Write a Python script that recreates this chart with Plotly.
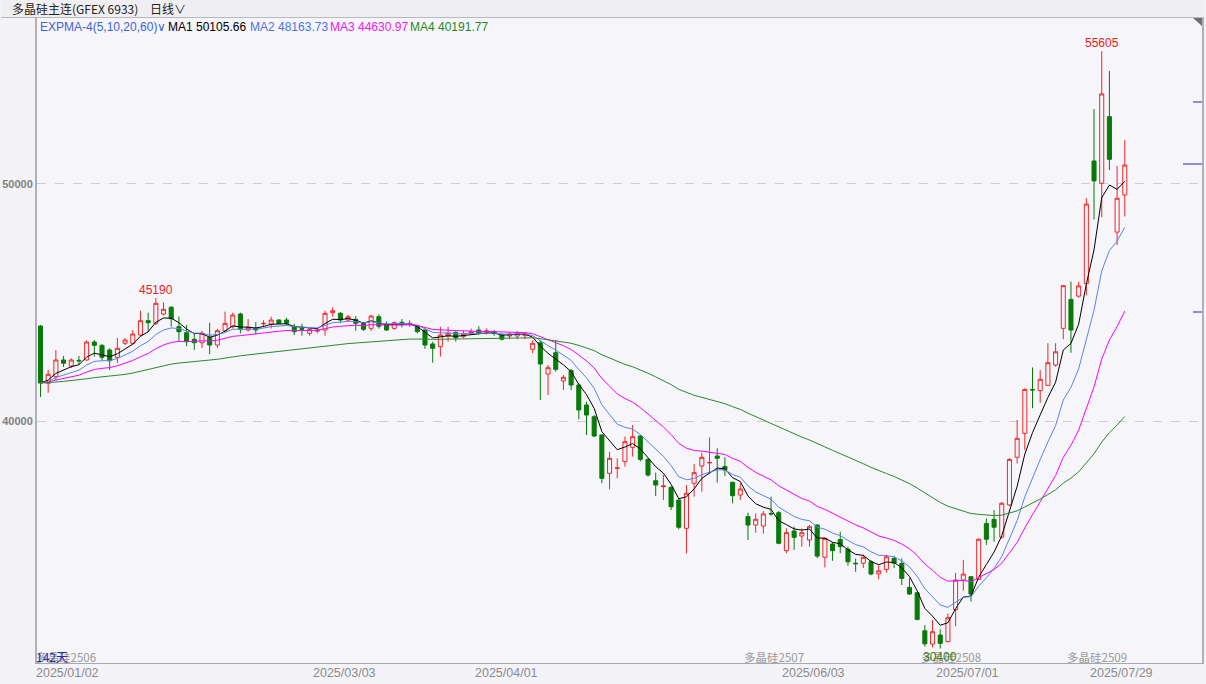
import pandas as pd
import plotly.graph_objects as go

# ---------------- data ----------------
open_ = [44008, 41591, 41869, 42574, 42320, 42560, 42574, 43333, 43194, 42995,
         42687, 43278, 43278, 43628, 44232, 44120, 44514, 44797, 43980, 43725,
         43447, 43303, 43530, 43206, 43810, 43979, 44514, 43840, 43920, 44100,
         44092, 44260, 44260, 43980, 43900, 43700, 43790, 43840, 44570, 44543,
         44260, 44290, 44120, 43910, 44400, 44092, 43910, 44165, 44100, 44000,
         43840, 43250, 43135, 43586, 43740, 43557, 43700, 43840, 43750, 43770,
         43630, 43586, 43586, 43600, 43025, 43300, 41983, 42882, 41690, 42122,
         41519, 40675, 40180, 39410, 37793, 38000, 38283, 38890, 39367, 38384,
         37480, 37230, 37200, 36667, 35473, 37372, 38100, 38230, 38524, 38080,
         37413, 36878, 35967, 35610, 35570, 36100, 36130, 34530, 35360, 35150,
         34980, 35610, 34250, 34810, 35000, 34590, 34000, 34000, 34060, 33550,
         33740, 34200, 33990, 32980, 32750, 31150, 30590, 30970, 30690, 32040,
         33290, 33430, 33320, 35680, 35850, 35100, 36460, 38470, 39480, 41330,
         41280, 41500, 42360, 43910, 45130, 45270, 45800, 50970, 50030, 52840,
         47970, 49535]
high = [44050, 42152, 42995, 42742, 42645, 42742, 43400, 43417, 43230, 43067,
        43502, 43502, 43839, 44654, 44570, 45190, 45000, 44852, 44410, 44050,
        43713, 43800, 44147, 43890, 44612, 44570, 44570, 44300, 44175, 44250,
        44400, 44300, 44350, 44100, 44100, 43910, 43950, 44650, 44800, 44600,
        44480, 44430, 44180, 44480, 44500, 44200, 44200, 44300, 44250, 44050,
        43868, 43345, 43980, 43980, 43780, 43800, 43900, 44000, 43900, 43840,
        43700, 43740, 43800, 43700, 43417, 43400, 42363, 43417, 41940, 42200,
        41590, 40815, 40250, 39430, 38700, 38426, 39340, 39831, 39400, 38420,
        37820, 37722, 37250, 36750, 37300, 38186, 38660, 39310, 38850, 38468,
        37440, 37370, 36130, 36100, 36200, 36810, 36200, 35470, 35540, 35470,
        35610, 35650, 35090, 34880, 35330, 34700, 34200, 34360, 34130, 33920,
        34350, 34320, 34200, 33360, 32800, 31390, 31600, 31210, 31880, 33590,
        34140, 33460, 35050, 35890, 36240, 36580, 38430, 40040, 41380, 42260,
        42150, 43280, 43280, 45740, 45880, 45880, 49400, 53160, 55605, 54770,
        50760, 51860]
low = [41013, 41194, 41730, 42278, 42236, 42380, 42550, 42713, 42574, 42152,
       42447, 43200, 43200, 43557, 43750, 44050, 44450, 43980, 43353, 43150,
       42995, 43080, 42827, 43080, 43768, 43900, 43700, 43780, 43650, 43950,
       43900, 44100, 44050, 43630, 43600, 43600, 43700, 43600, 44400, 44150,
       44180, 43810, 43800, 43800, 43900, 43800, 43850, 43950, 43980, 43700,
       43040, 42460, 42713, 43350, 43350, 43500, 43650, 43650, 43650, 43600,
       43400, 43450, 43450, 43450, 42856, 40886, 41097, 42080, 41308, 41308,
       40070, 39410, 39325, 37370, 37118, 37582, 38070, 38494, 38300, 37650,
       36836, 36667, 36240, 35430, 34416, 36808, 37020, 37760, 37400, 37680,
       36530, 36667, 34980, 35290, 35250, 36000, 34800, 34416, 34560, 34700,
       34700, 34220, 33825, 34100, 34420, 33900, 33640, 33800, 33490, 33320,
       33600, 33800, 33080, 32660, 31590, 30480, 30450, 30400, 30660, 31340,
       32840, 32380, 33290, 34770, 34910, 35050, 36400, 38210, 38780, 40540,
       40770, 41480, 42290, 43450, 42880, 45200, 45300, 48500, 48600, 50590,
       47425, 48630]
close = [41603, 41970, 42574, 42434, 42574, 42540, 43333, 43194, 42687, 42545,
         43067, 43417, 43670, 44232, 44147, 44966, 44712, 44317, 43768, 43346,
         43303, 43700, 43206, 43810, 44120, 44472, 43868, 43950, 43840, 44120,
         44260, 44120, 44120, 43768, 43870, 43868, 43840, 44543, 44654, 44260,
         44400, 44120, 43868, 44430, 44000, 43840, 44147, 44080, 44120, 43768,
         43206, 43067, 43628, 43700, 43515, 43670, 43770, 43700, 43800, 43700,
         43450, 43670, 43700, 43680, 43278, 42405, 42250, 42180, 41843, 41519,
         40464, 40253, 39367, 37582, 38426, 38020, 39127, 39340, 38384, 37722,
         37300, 37258, 36384, 35515, 36950, 37820, 38468, 38250, 38426, 37934,
         36850, 37130, 35610, 35855, 36080, 36080, 34840, 35290, 35093, 35290,
         35540, 34300, 35050, 34530, 34700, 34060, 33980, 34250, 33545, 33680,
         34270, 34000, 33360, 32700, 31630, 30600, 31110, 30620, 31700, 33290,
         33540, 32700, 35010, 35010, 35520, 36530, 38380, 39270, 41330, 41310,
         41760, 42460, 42920, 45710, 43840, 45700, 49150, 50130, 53800, 51040,
         49400, 50800]

holidays = ["2025-01-28", "2025-01-29", "2025-01-30", "2025-01-31", "2025-02-03",
            "2025-02-04", "2025-04-04", "2025-05-01", "2025-05-02", "2025-05-05",
            "2025-06-02"]
dates = [d.strftime("%Y/%m/%d") for d in pd.bdate_range("2025-01-02", "2025-08-04")
         if d.strftime("%Y-%m-%d") not in holidays]
dates = dates[:len(close)]
xi = list(range(len(close)))

tick_dates = ["2025/01/02", "2025/03/03", "2025/04/01", "2025/06/03", "2025/07/01", "2025/07/29"]
contract_names = ["多晶硅2506", "多晶硅2507", "多晶硅2508", "多晶硅2509"]
contract_dates = ["2025/01/02", "2025/05/26", "2025/06/27", "2025/07/24"]
ema_spans = [5, 10, 20, 60]
ema_names = ["MA1", "MA2", "MA3", "MA4"]
ema_last_text = ["50105.66", "48163.73", "44630.97", "40191.77"]
ema_colors = ["#000000", "#5b82e8", "#ff00ff", "#2a8a2a"]
days_label = "142天"

# ---------------- geometry helpers ----------------
W, H = 1206, 684
L, R, T, B = 36, 2, 18, 21
PW, PH = W - L - R, H - T - B
PAD = 3  # annotation inner padding


def px(x):
    return (x - L) / PW


def py(y):
    return (H - B - y) / PH


fig = go.Figure()

fig.add_trace(go.Candlestick(
    x=xi, open=open_, high=high, low=low, close=close,
    increasing=dict(line=dict(color="#f02828", width=1), fillcolor="#f5f5fa"),
    decreasing=dict(line=dict(color="#087a08", width=1), fillcolor="#087a08"),
    whiskerwidth=0, hoverinfo="skip", showlegend=False))

cs = pd.Series(close, dtype=float)
for span, col in zip(ema_spans, ema_colors):
    ema = cs.ewm(span=span, adjust=False).mean()
    fig.add_trace(go.Scatter(x=xi, y=ema.round(2).tolist(), mode="lines",
                             line=dict(color=col, width=1), hoverinfo="skip",
                             showlegend=False))

ann = []
# date labels under the axis
for t in tick_dates:
    ann.append(dict(x=dates.index(t), y=py(673), xref="x", yref="paper", text=t,
                    showarrow=False, xanchor="left", yanchor="middle", xshift=-3 - PAD,
                    font=dict(family="Liberation Sans", size=12.5, color="#8a8a8a")))
# contract roll labels
for name, d in zip(contract_names, contract_dates):
    ann.append(dict(x=dates.index(d), y=py(657), xref="x", yref="paper", text=name,
                    showarrow=False, xanchor="left", yanchor="middle", xshift=-3 - PAD,
                    font=dict(family="Noto Sans CJK SC", size=11.5, color="#9a9a9a")))
ann.append(dict(x=0, y=py(656), xref="x", yref="paper", text=days_label,
                showarrow=False, xanchor="left", yanchor="middle", xshift=-3 - PAD,
                font=dict(family="Noto Sans CJK SC", size=12, color="#2a2ab0")))
# max / min markers
i_max = max(xi, key=lambda i: high[i])
i_max1 = max(xi[:60], key=lambda i: high[i])
i_min = min(xi, key=lambda i: low[i])
for i in (i_max, i_max1):
    ann.append(dict(x=i, y=high[i], xref="x", yref="y", text=str(high[i]),
                    showarrow=False, xanchor="center", yanchor="bottom", yshift=-1,
                    font=dict(family="Liberation Sans", size=12, color="#ee2020")))
ann.append(dict(x=i_min, y=py(657), xref="x", yref="paper", text=str(low[i_min]),
                showarrow=False, xanchor="center", yanchor="middle",
                font=dict(family="Liberation Sans", size=12, color="#3f7f1f")))

# header
ann.append(dict(x=px(12 - PAD), y=py(9), xref="paper", yref="paper", text="多晶硅主连(GFEX 6933)",
                showarrow=False, xanchor="left", yanchor="middle",
                font=dict(family="Noto Sans CJK SC", size=12, color="#222222")))
ann.append(dict(x=px(150 - PAD), y=py(9), xref="paper", yref="paper", text="日线∨",
                showarrow=False, xanchor="left", yanchor="middle",
                font=dict(family="Noto Sans CJK SC", size=12, color="#222222")))
# indicator legend row
ann.append(dict(x=px(40 - PAD), y=py(27), xref="paper", yref="paper", text="EXPMA-4(5,10,20,60)∨",
                showarrow=False, xanchor="left", yanchor="middle",
                font=dict(family="Liberation Sans", size=12, color="#3f63d6")))
leg_x = [168, 251, 331, 411]
leg_cols = ["#000000", "#4a74e8", "#ee20ee", "#1f8a1f"]
for lx, nm, v, c in zip(leg_x, ema_names, ema_last_text, leg_cols):
    ann.append(dict(x=px(lx - PAD), y=py(27), xref="paper", yref="paper", text=f"{nm} {v}",
                    showarrow=False, xanchor="left", yanchor="middle",
                    font=dict(family="Liberation Sans", size=12, color=c)))

shapes = [
    dict(type="rect", xref="paper", yref="paper", x0=px(0), x1=px(W), y0=py(0), y1=py(17),
         fillcolor="#efeff1", line=dict(width=0), layer="below"),
    dict(type="line", xref="paper", yref="paper", x0=px(0), x1=px(W), y0=py(17.5), y1=py(17.5),
         line=dict(color="#b8b8c0", width=1)),
    dict(type="path", xref="paper", yref="paper",
         path=f"M {px(1195)} {py(18)} L {px(1204)} {py(18)} L {px(1204)} {py(26)} Z",
         fillcolor="#707070", line=dict(width=0)),
    dict(type="line", xref="paper", yref="paper", x0=px(1195), x1=px(1204), y0=py(102), y1=py(102),
         line=dict(color="#6a6ad0", width=1.5)),
    dict(type="line", xref="paper", yref="paper", x0=px(1185), x1=px(1204), y0=py(164), y1=py(164),
         line=dict(color="#6a6ad0", width=1.5)),
    dict(type="line", xref="paper", yref="paper", x0=px(1195), x1=px(1204), y0=py(312), y1=py(312),
         line=dict(color="#6a6ad0", width=1.5)),
]

fig.update_layout(
    width=W, height=H, margin=dict(l=L, r=R, t=T, b=B, pad=0),
    paper_bgcolor="#f4f4f8", plot_bgcolor="#f5f5fa",
    showlegend=False, boxgap=0.25, annotations=ann, shapes=shapes,
    xaxis=dict(range=[-0.454, 151.04], showgrid=False, showticklabels=False, zeroline=False,
               showline=True, linecolor="#a8a8b0", linewidth=1, mirror=True,
               rangeslider=dict(visible=False), fixedrange=True),
    yaxis=dict(range=[29790, 57003], tickvals=[40000, 50000], ticktext=["40000", "50000"],
               showgrid=True, gridcolor="#cdcdd5", griddash="dash", gridwidth=1,
               zeroline=False, showline=True, linecolor="#b0b0b8", linewidth=2, mirror=True,
               ticks="", tickfont=dict(family="Liberation Sans", size=11, color="#808080",
                                       weight="bold"), fixedrange=True),
)

fig.write_html("out.html", config={"displayModeBar": False},
               post_script="document.body.style.margin='0';document.body.style.overflow='hidden';")
